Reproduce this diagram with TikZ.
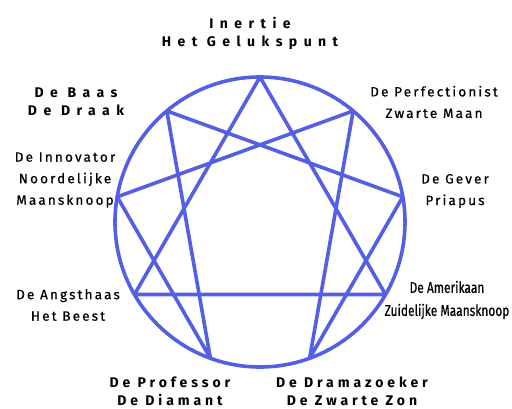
\documentclass[tikz,border=0pt]{standalone}
\usepackage{fontspec}
\usetikzlibrary{calc}
\setmainfont{Fira Sans}
\newfontfamily\widefont[LetterSpace=28]{Fira Sans}
\newfontfamily\widerfont[LetterSpace=46]{Fira Sans}
\newfontfamily\normfont[LetterSpace=16,FakeBold=0.6]{Fira Sans}
\newfontfamily\narrowfont[FakeStretch=0.77,FakeBold=0.5]{Fira Sans}
\definecolor{ennea}{RGB}{85,95,230}
\begin{document}
\begin{tikzpicture}[x=1pt,y=-1pt,
  ring/.style={draw=ennea,line width=3.6pt},
  figline/.style={draw=ennea,line width=3.6pt,line join=round,line cap=round},
  wlab/.style={align=center,font=\widefont\bfseries\fontsize{14}{18}\selectfont,inner sep=0pt},
  xlab/.style={align=center,font=\widerfont\bfseries\fontsize{14}{18}\selectfont,inner sep=0pt},
  nlab/.style={align=center,font=\normfont\fontsize{13.5}{21.5}\selectfont,inner sep=0pt},
  slab/.style={align=center,font=\narrowfont\fontsize{15.5}{23}\selectfont,inner sep=0pt}]
\useasboundingbox (0,0) rectangle (512,408);
\coordinate (c) at (260,222);
\draw[ring] (c) circle (145);
\foreach \i in {0,...,8}{
  \coordinate (p\i) at ($(c)+({sin(40*\i)*145},{-cos(40*\i)*145})$);
}
\draw[figline] (p0) -- (p3) -- (p6) -- cycle;
\draw[figline] (p1) -- (p4) -- (p2) -- (p8) -- (p5) -- (p7) -- cycle;
\node[xlab] (t9) at (250,33) {Inertie\\Het Gelukspunt};
\node[xlab] (t8) at (76,102) {De Baas\\De Draak};
\node[nlab] (t1) at (434,102) {De Perfectionist\\Zwarte Maan};
\node[nlab] (t7) at (65,180) {De Innovator\\Noordelijke\\Maansknoop};
\node[nlab] (t2) at (455,191) {De Gever\\Priapus};
\node[nlab] (t6) at (68,305) {De Angsthaas\\Het Beest};
\node[slab] (t3) at (447,300) {De Amerikaan\\Zuidelijke Maansknoop};
\node[wlab] (t5) at (170,391) {De Professor\\De Diamant};
\node[wlab] (t4) at (352,391) {De Dramazoeker\\De Zwarte Zon};
\end{tikzpicture}
\end{document}
